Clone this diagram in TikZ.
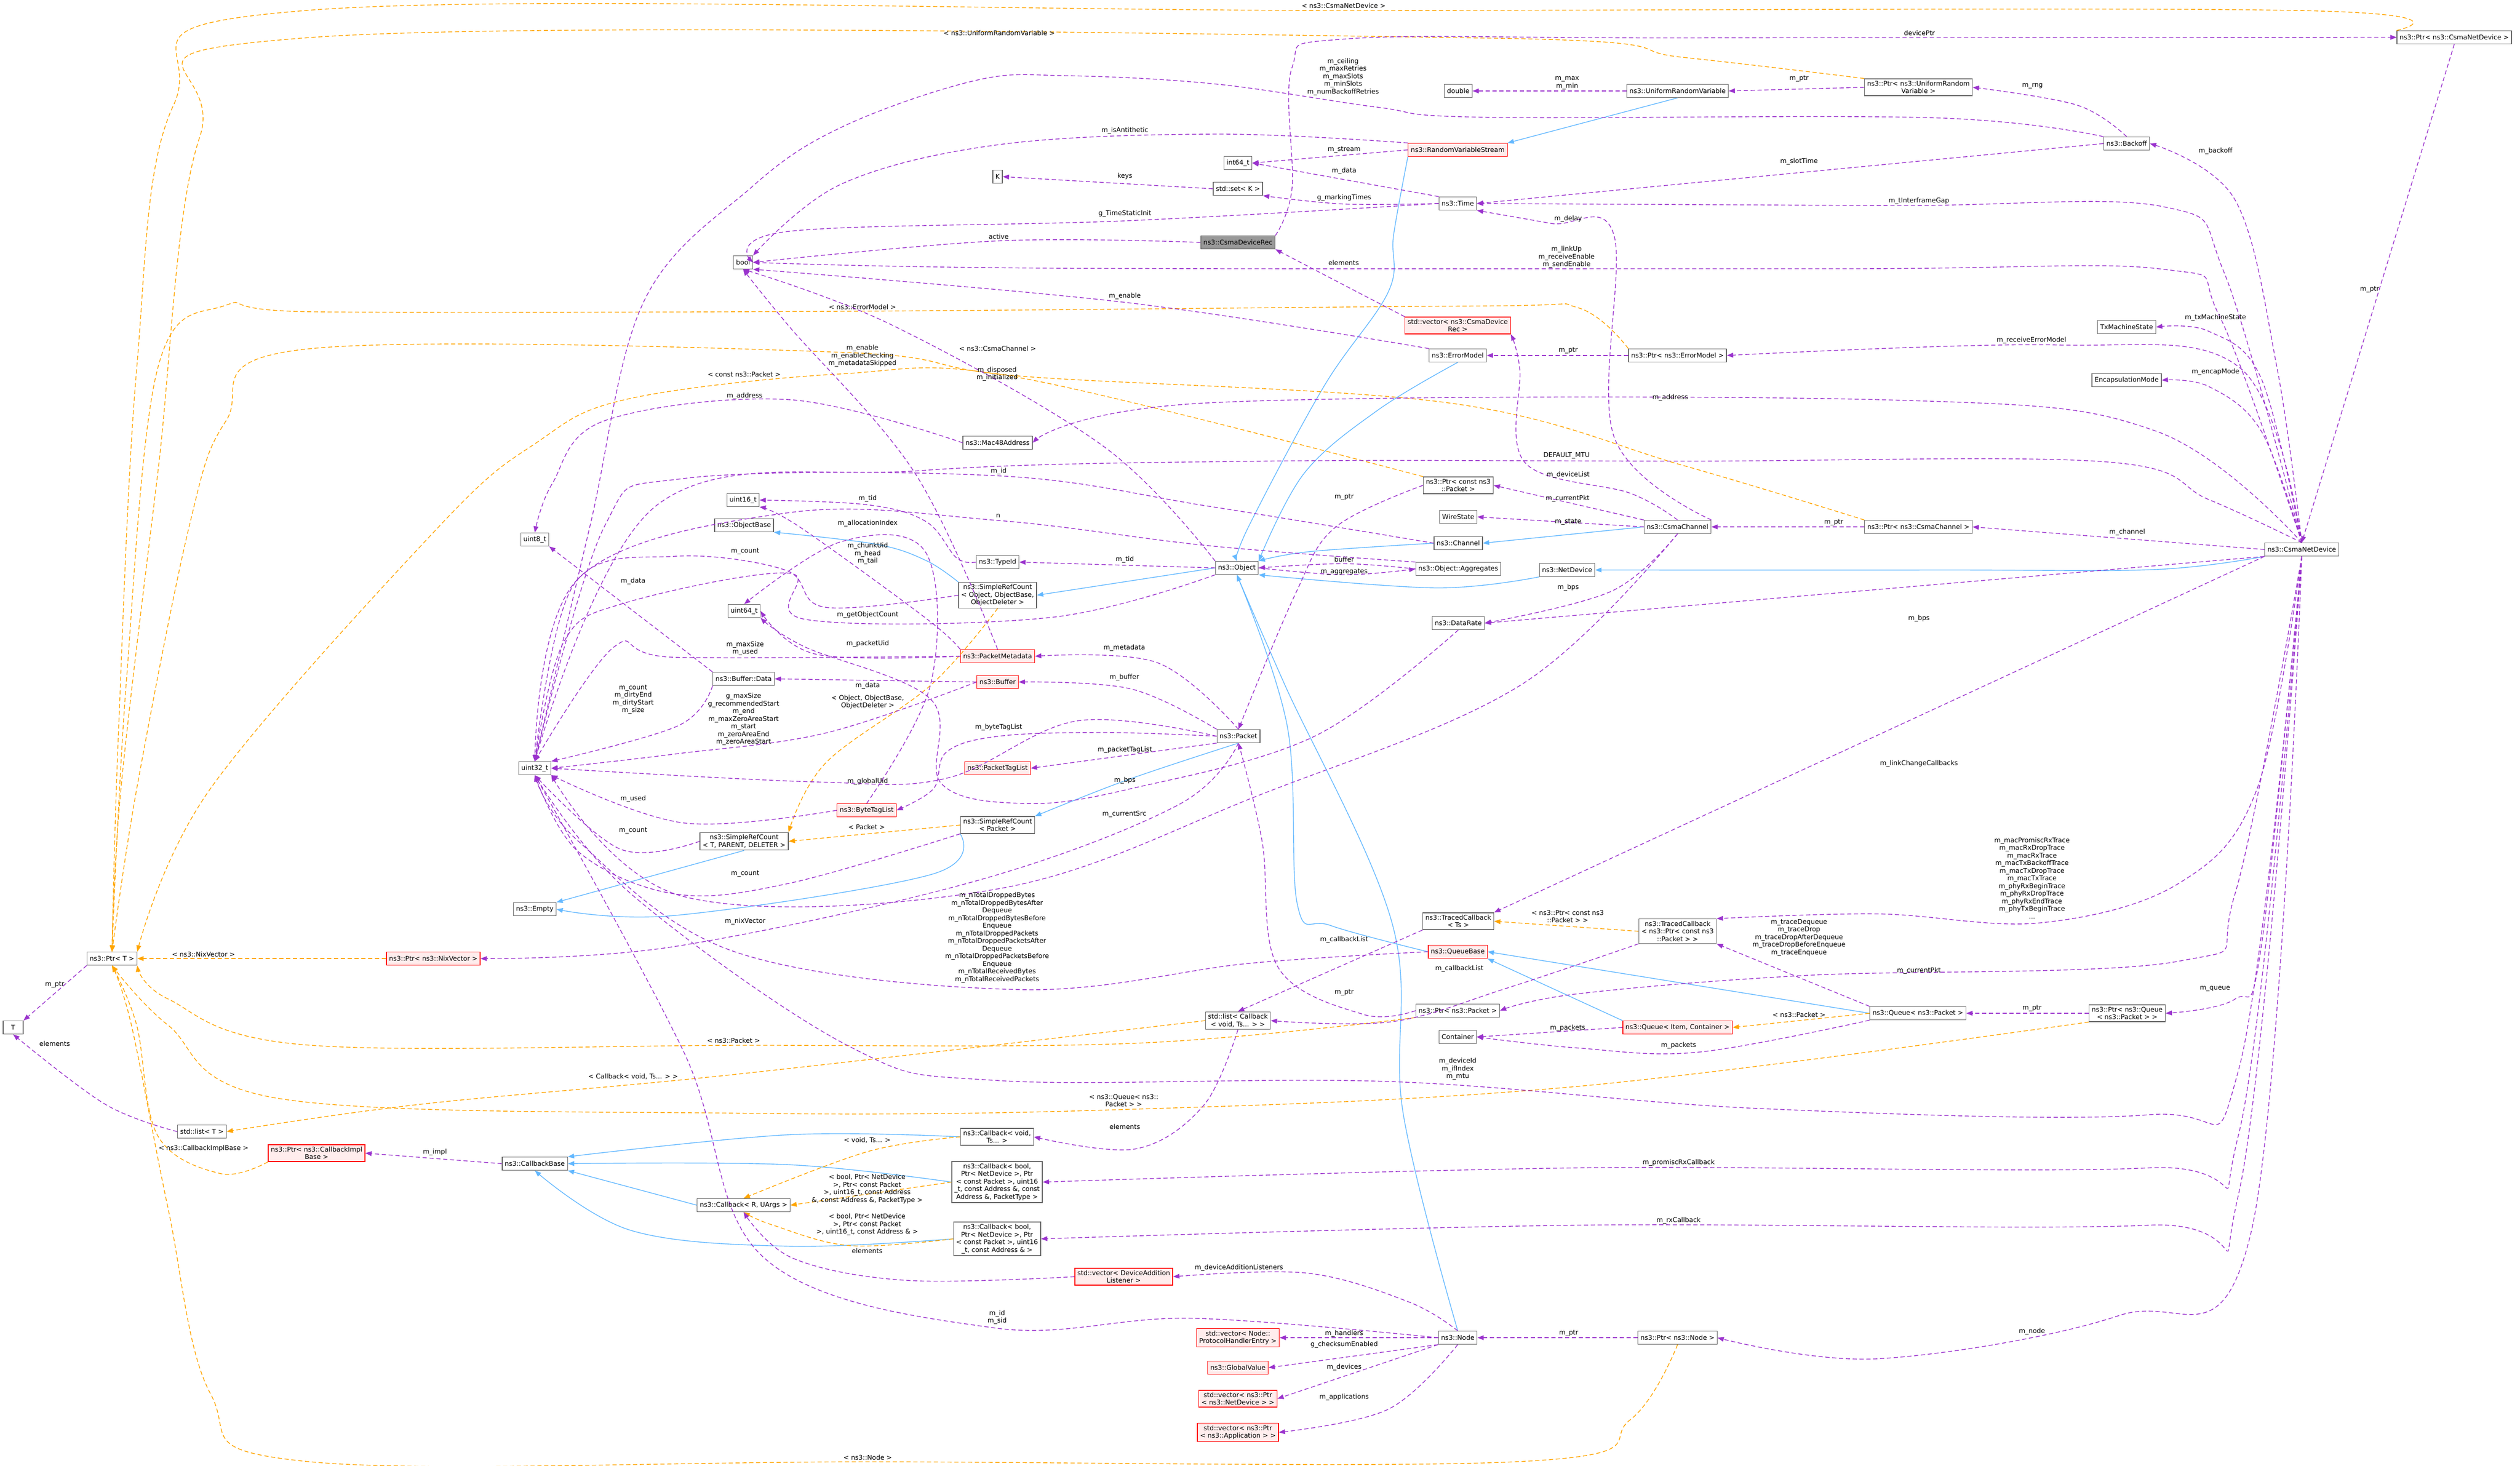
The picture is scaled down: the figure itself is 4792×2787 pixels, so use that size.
\documentclass[tikz,border=0pt]{standalone}
\usepackage{fontspec}
\setmainfont{DejaVu Sans}
\usetikzlibrary{arrows.meta}
\definecolor{mp}{HTML}{9A32CD}
\definecolor{ob}{HTML}{FFA500}
\definecolor{bl}{HTML}{63B8FF}
\tikzset{
 box/.style={draw=black!60,fill=white,line width=1.3pt,inner xsep=5pt,inner ysep=4pt,minimum height=25pt,align=center,font=\fontsize{12.5}{14.5}\selectfont},
 redbox/.style={box,draw=red,fill=red!7},
 graybox/.style={box,draw=black!70,fill=black!40},
 lbl/.style={inner sep=0pt,align=center,font=\fontsize{12.5}{14.5}\selectfont},
 mem/.style={draw=mp,line width=1.4pt,dash pattern=on 8pt off 5pt,-{Triangle[length=12pt,width=9pt,fill=mp]}},
 tpl/.style={draw=ob,line width=1.4pt,dash pattern=on 8pt off 5pt,-{Triangle[length=12pt,width=9pt,fill=ob]}},
 inh/.style={draw=bl,line width=1.4pt,-{Triangle[length=12pt,width=9pt,fill=bl]}},
 sm/.style={smooth,tension=0.6}
}
\begin{document}
\begin{tikzpicture}[x=1pt,y=-1pt]
\useasboundingbox (0,0) rectangle (4792,2787);
% nodes
\node[box] (bool) at (1413,499) {bool};
\node[box] (u16) at (1413,951) {uint16\_t};
\node[box] (objbase) at (1415,999) {ns3::ObjectBase};
\node[box] (u8) at (1017,1026) {uint8\_t};
\node[box] (u64) at (1415,1162) {uint64\_t};
\node[box] (bdata) at (1414,1291) {ns3::Buffer::Data};
\node[box] (u32) at (1017,1461) {uint32\_t};
\node[box] (srcT) at (1415,1600) {ns3::SimpleRefCount\\< T, PARENT, DELETER >};
\node[box] (empty) at (1017,1729) {ns3::Empty};
\node[box] (mac) at (1897,842) {ns3::Mac48Address};
\node[box] (typeid) at (1897,1069) {ns3::TypeId};
\node[box] (srcO) at (1897,1132) {ns3::SimpleRefCount\\< Object, ObjectBase,\\ObjectDeleter >};
\node[redbox] (pmeta) at (1897,1248) {ns3::PacketMetadata};
\node[redbox] (buffer) at (1897,1297) {ns3::Buffer};
\node[redbox] (ptaglist) at (1897,1461) {ns3::PacketTagList};
\node[redbox] (btaglist) at (1648,1541) {ns3::ByteTagList};
\node[box] (srcP) at (1897,1569) {ns3::SimpleRefCount\\< Packet >};
\node[box] (object) at (2352,1080) {ns3::Object};
\node[box] (packet) at (2355,1400) {ns3::Packet};
\node[box] (ptrcp) at (2773,923) {ns3::Ptr< const ns3\\::Packet >};
\node[box] (wire) at (2773,983) {WireState};
\node[box] (channel) at (2773,1033) {ns3::Channel};
\node[box] (aggr) at (2773,1082) {ns3::Object::Aggregates};
\node[box] (netdev) at (2980,1084) {ns3::NetDevice};
\node[box] (datarate) at (2773,1185) {ns3::DataRate};
\node[box] (cchan) at (3190,1002) {ns3::CsmaChannel};
\node[box] (ptrcc) at (3648,1002) {ns3::Ptr< ns3::CsmaChannel >};
\node[box] (cnd) at (4377,1045) {ns3::CsmaNetDevice};
\node[box] (tcts) at (2773,1752) {ns3::TracedCallback\\< Ts >};
\node[box] (tcp) at (3190,1771) {ns3::TracedCallback\\< ns3::Ptr< const ns3\\::Packet > >};
\node[graybox] (rec) at (2354,461) {ns3::CsmaDeviceRec};
\node[box] (i64) at (2354,310) {int64\_t};
\node[box] (K) at (1897,336) {K};
\node[box] (setK) at (2354,359) {std::set< K >};
\node[redbox] (rvs) at (2772,285) {ns3::RandomVariableStream};
\node[box] (time) at (2772,387) {ns3::Time};
\node[redbox] (vecrec) at (2772,619) {std::vector< ns3::CsmaDevice\\Rec >};
\node[box] (errm) at (2772,676) {ns3::ErrorModel};
\node[box] (ptrerr) at (3190,676) {ns3::Ptr< ns3::ErrorModel >};
\node[box] (urv) at (3190,173) {ns3::UniformRandomVariable};
\node[box] (dbl) at (2773,173) {double};
\node[box] (ptrurv) at (3648,166) {ns3::Ptr< ns3::UniformRandom\\Variable >};
\node[box] (backoff) at (4044,273) {ns3::Backoff};
\node[box] (ptrcnd) at (4667,71) {ns3::Ptr< ns3::CsmaNetDevice >};
\node[box] (txms) at (4044,622) {TxMachineState};
\node[box] (encap) at (4044,723) {EncapsulationMode};
\node[box] (ptrT) at (213,1823) {ns3::Ptr< T >};
\node[box,minimum width=38pt] (T) at (25,1954) {T};
\node[box] (listT) at (384,2152) {std::list< T >};
\node[redbox] (ptrnix) at (824,1823) {ns3::Ptr< ns3::NixVector >};
\node[redbox] (ptrcib) at (602,2193) {ns3::Ptr< ns3::CallbackImpl\\Base >};
\node[box] (cbbase) at (1017,2213) {ns3::CallbackBase};
\node[box] (cbR) at (1414,2292) {ns3::Callback< R, UArgs >};
\node[box] (cbvoid) at (1896,2162) {ns3::Callback< void,\\Ts... >};
\node[box] (cbpt) at (1896,2248) {ns3::Callback< bool,\\Ptr< NetDevice >, Ptr\\< const Packet >, uint16\\\_t, const Address \&, const\\Address \&, PacketType >};
\node[box] (cbaddr) at (1896,2356) {ns3::Callback< bool,\\Ptr< NetDevice >, Ptr\\< const Packet >, uint16\\\_t, const Address \& >};
\node[redbox] (vecdal) at (2137,2428) {std::vector< DeviceAddition\\Listener >};
\node[box] (listcb) at (2354,1941) {std::list< Callback\\< void, Ts... > >};
\node[redbox] (qbase) at (2772,1810) {ns3::QueueBase};
\node[box] (ptrpkt) at (2772,1922) {ns3::Ptr< ns3::Packet >};
\node[box] (container) at (2772,1972) {Container};
\node[box] (nodeN) at (2772,2544) {ns3::Node};
\node[redbox] (vecph) at (2354,2544) {std::vector< Node::\\ProtocolHandlerEntry >};
\node[redbox] (gv) at (2354,2601) {ns3::GlobalValue};
\node[redbox] (vecnd) at (2354,2660) {std::vector< ns3::Ptr\\< ns3::NetDevice > >};
\node[redbox] (vecapp) at (2354,2724) {std::vector< ns3::Ptr\\< ns3::Application > >};
\node[redbox] (qic) at (3190,1954) {ns3::Queue< Item, Container >};
\node[box] (qp) at (3647,1927) {ns3::Queue< ns3::Packet >};
\node[box] (ptrq) at (4045,1927) {ns3::Ptr< ns3::Queue\\< ns3::Packet > >};
\node[box] (ptrnode) at (3190,2544) {ns3::Ptr< ns3::Node >};

% inheritance
\draw[inh] (urv.south) -- (rvs.north east);
\draw[inh] plot[sm] coordinates {(rvs.south west) (2650,447) (2640,555) (2518,734) (2375,1000) (object.north)};
\draw[inh] plot[sm] coordinates {(errm.south) (2620,780) (2480,900) (object.north east)};
\draw[inh] plot[sm] coordinates {(channel.west) (2491,1049) (object.north east)};
\draw[inh] (cchan.west) -- (channel.east);
\draw[inh] plot[sm] coordinates {(netdev.south west) (2731,1118) (object.south east)};
\draw[inh] plot[sm] coordinates {(cnd.south west) (4100,1083) (3700,1084) (netdev.east)};
\draw[inh] (object.west) -- (srcO.east);
\draw[inh] plot[sm] coordinates {(srcO.north west) (1761,1066) (1666,1035) (objbase.south east)};
\draw[inh] plot[sm] coordinates {(packet.south) (2144,1483) (srcP.north east)};
\draw[inh] plot[sm] coordinates {(srcP.south west) (1771,1663) (1283,1741) (empty.east)};
\draw[inh] (srcT.south) -- (empty.north east);
\draw[inh] plot[sm] coordinates {(qbase.west) (2530,1760) (2467,1720) (2448,1382) (object.south)};
\draw[inh] plot[sm] coordinates {(nodeN.north) (2668,2116) (2647,1755) (2443,1302) (object.south)};
\draw[inh] (qp.west) -- (qbase.east);
\draw[inh] (qic.north west) -- (qbase.south east);
\draw[inh] plot[sm] coordinates {(cbvoid.west) (1500,2158) (cbbase.north east)};
\draw[inh] plot[sm] coordinates {(cbpt.west) (1500,2215) (cbbase.east)};
\draw[inh] (cbR.west) -- (cbbase.south east);
\draw[inh] plot[sm] coordinates {(cbaddr.west) (1500,2370) (1200,2340) (cbbase.south)};

% templates
\draw[tpl] plot[sm] coordinates {(ptrcnd.north west) (4370,20) (2555,20) (581,20) (330,200) (260,700) (225,1400) (ptrT.north)};
\node[lbl] (l1) at (2555,11) {< ns3::CsmaNetDevice >};
\draw[tpl] plot[sm] coordinates {(ptrurv.north west) (3200,109) (2800,72) (581,72) (380,260) (300,900) (230,1500) (ptrT.north)};
\node[lbl] (l2) at (1900,63) {< ns3::UniformRandomVariable >};
\draw[tpl] plot[sm] coordinates {(ptrerr.north west) (3000,585) (2804,582) (1600,592) (600,593) (428,581) (300,700) (240,1300) (ptrT.north)};
\node[lbl] (l3) at (1640,584) {< ns3::ErrorModel >};
\draw[tpl] plot[sm] coordinates {(ptrcc.north west) (3200,885) (2753,766) (1937,715) (1600,670) (581,664) (430,800) (360,1000) (260,1500) (ptrT.north)};
\node[lbl] (l4) at (1897,663) {< ns3::CsmaChannel >};
\draw[tpl] plot[sm] coordinates {(ptrcp.north west) (1937,718) (1600,711) (1193,759) (1020,842) (836,1000) (400,1500) (ptrT.north east)};
\node[lbl] (l5) at (1415,712) {< const ns3::Packet >};
\draw[tpl] (ptrnix.west) -- (ptrT.east);
\node[lbl] (l6) at (387,1815) {< ns3::NixVector >};
\draw[tpl] plot[sm] coordinates {(ptrpkt.south west) (2159,1984) (1400,1988) (580,1987) (320,1900) (ptrT.south east)};
\node[lbl] (l7) at (1395,1979) {< ns3::Packet >};
\draw[tpl] plot[sm] coordinates {(ptrq.south west) (3000,2066) (2137,2110) (1400,2117) (536,2090) (320,1950) (ptrT.south)};
\node[lbl] (l8) at (2137,2093) {< ns3::Queue< ns3::\\Packet > >};
\draw[tpl] plot[sm] coordinates {(listcb.west) (1400,2043) (800,2100) (listT.east)};
\node[lbl] (l9) at (1204,2047) {< Callback< void, Ts... > >};
\draw[tpl] plot[sm] coordinates {(ptrcib.south west) (420,2232) (300,2160) (260,1950) (ptrT.south)};
\node[lbl] (l10) at (387,2184) {< ns3::CallbackImplBase >};
\draw[tpl] plot[sm] coordinates {(ptrnode.south) (3100,2700) (2900,2779) (1650,2780) (580,2779) (400,2650) (320,2300) (250,1950) (ptrT.south)};
\node[lbl] (l11) at (1650,2772) {< ns3::Node >};
\draw[tpl] plot[sm] coordinates {(srcO.south) (1771,1302) (1570,1451) (srcT.north east)};
\node[lbl] (l12) at (1650,1335) {< Object, ObjectBase,\\ObjectDeleter >};
\draw[tpl] (srcP.west) -- (srcT.east);
\node[lbl] (l13) at (1648,1573) {< Packet >};
\draw[tpl] (qp.west) -- (qic.east);
\node[lbl] (l14) at (3421,1930) {< ns3::Packet >};
\draw[tpl] (tcp.west) -- (tcts.east);
\node[lbl] (l15) at (2981,1743) {< ns3::Ptr< const ns3\\::Packet > >};
\draw[tpl] plot[sm] coordinates {(cbvoid.west) (1650,2190) (cbR.north)};
\node[lbl] (l16) at (1649,2168) {< void, Ts... >};
\draw[tpl] plot[sm] coordinates {(cbpt.west) (cbR.east)};
\node[lbl] (l17) at (1649,2261) {< bool, Ptr< NetDevice\\>, Ptr< const Packet\\>, uint16\_t, const Address\\\&, const Address \&, PacketType >};
\draw[tpl] plot[sm] coordinates {(cbaddr.west) (1617,2369) (1470,2330) (cbR.south)};
\node[lbl] (l18) at (1649,2329) {< bool, Ptr< NetDevice\\>, Ptr< const Packet\\>, uint16\_t, const Address \& >};

% members
\draw[mem] plot[sm] coordinates {(rec.west) (1900,458) (bool.east)};
\node[lbl] (m1) at (1899,450) {active};
\draw[mem] plot[sm] coordinates {(rec.north east) (2457,357) (2457,128) (2560,74) (3200,72) (ptrcnd.west)};
\node[lbl] (m2) at (3650,63) {devicePtr};
\draw[mem] (vecrec.north west) -- (rec.south east);
\node[lbl] (m3) at (2555,500) {elements};
\draw[mem] plot[sm] coordinates {(cchan.north) (3100,938) (2900,880) (2890,702) (vecrec.south east)};
\node[lbl] (m4) at (2982,903) {m\_deviceList};
\draw[mem] plot[sm] coordinates {(cchan.north east) (3069,830) (3069,447) (2950,425) (time.south east)};
\node[lbl] (m5) at (2982,416) {m\_delay};
\draw[mem] (cchan.north west) -- (ptrcp.east);
\node[lbl] (m6) at (2981,948) {m\_currentPkt};
\draw[mem] (cchan.west) -- (wire.east);
\node[lbl] (m7) at (2982,993) {m\_state};
\draw[mem] plot[sm] coordinates {(cchan.south) (3065,1124) (datarate.east)};
\node[lbl] (m8) at (2982,1117) {m\_bps};
\draw[mem] plot[sm] coordinates {(cchan.south) (2893,1302) (2400,1510) (1900,1690) (1300,1705) (u32.south east)};
\node[lbl] (m9) at (2138,1548) {m\_currentSrc};
\draw[mem] plot[sm] coordinates {(datarate.south) (2500,1400) (2150,1500) (1950,1528) (1790,1490) (1770,1330) (1530,1230) (u64.south east)};
\node[lbl] (m9b) at (2139,1484) {m\_bps};
\draw[mem] (ptrcc.west) -- (cchan.east);
\node[lbl] (m10) at (3487,994) {m\_ptr};
\draw[mem] (cnd.west) -- (ptrcc.east);
\node[lbl] (m11) at (4045,1012) {m\_channel};
\draw[mem] plot[sm] coordinates {(cnd.north) (4330,700) (4250,380) (backoff.east)};
\node[lbl] (m12) at (4213,287) {m\_backoff};
\draw[mem] plot[sm] coordinates {(cnd.north) (4230,520) (4113,393) (3600,391) (time.east)};
\node[lbl] (m13) at (3649,382) {m\_tInterframeGap};
\draw[mem] plot[sm] coordinates {(cnd.north) (4220,600) (4113,512) (3500,511) (2000,510) (bool.east)};
\node[lbl] (m14) at (2979,489) {m\_linkUp\\m\_receiveEnable\\m\_sendEnable};
\draw[mem] plot[sm] coordinates {(cnd.north) (4300,720) (4200,630) (txms.east)};
\node[lbl] (m15) at (4213,604) {m\_txMachineState};
\draw[mem] plot[sm] coordinates {(cnd.north) (4260,700) (3910,656) (ptrerr.east)};
\node[lbl] (m16) at (3863,647) {m\_receiveErrorModel};
\draw[mem] plot[sm] coordinates {(cnd.north) (4300,820) (4200,735) (encap.east)};
\node[lbl] (m17) at (4213,707) {m\_encapMode};
\draw[mem] plot[sm] coordinates {(cnd.north) (4100,820) (3606,761) (2300,766) (mac.east)};
\node[lbl] (m18) at (3176,756) {m\_address};
\draw[mem] plot[sm] coordinates {(cnd.north) (4200,950) (4000,878) (3200,877) (2400,877) (1750,895) (1250,960) (u32.north)};
\node[lbl] (m19) at (2979,866) {DEFAULT\_MTU};
\draw[mem] (cnd.south west) -- (datarate.east);
\node[lbl] (m20) at (3649,1176) {m\_bps};
\draw[mem] (cnd.south west) -- (tcts.north east);
\node[lbl] (m21) at (3649,1452) {m\_linkChangeCallbacks};
\draw[mem] plot[sm] coordinates {(cnd.south) (4292,1500) (4143,1680) (3880,1755) (3571,1738) (tcp.north east)};
\node[lbl] (m22) at (3864,1670) {m\_macPromiscRxTrace\\m\_macRxDropTrace\\m\_macRxTrace\\m\_macTxBackoffTrace\\m\_macTxDropTrace\\m\_macTxTrace\\m\_phyRxBeginTrace\\m\_phyRxDropTrace\\m\_phyRxEndTrace\\m\_phyTxBeginTrace\\...};
\draw[mem] plot[sm] coordinates {(cnd.south) (4250,1700) (4143,1828) (3434,1855) (3000,1890) (ptrpkt.east)};
\node[lbl] (m23) at (3649,1846) {m\_currentPkt};
\draw[mem] plot[sm] coordinates {(cnd.south) (4300,1800) (4250,1900) (ptrq.east)};
\node[lbl] (m24) at (4212,1880) {m\_queue};
\draw[mem] plot[sm] coordinates {(cnd.south) (4257,2034) (4086,2120) (3343,2108) (2647,2057) (1899,2055) (1617,1991) (1200,1700) (u32.south)};
\node[lbl] (m25) at (2772,2033) {m\_deviceId\\m\_ifIndex\\m\_mtu};
\draw[mem] plot[sm] coordinates {(cnd.south) (4257,2157) (4086,2221) (3000,2221) (cbpt.east)};
\node[lbl] (m26) at (3192,2211) {m\_promiscRxCallback};
\draw[mem] plot[sm] coordinates {(cnd.south) (4257,2270) (4086,2330) (3000,2330) (cbaddr.east)};
\node[lbl] (m27) at (3192,2321) {m\_rxCallback};
\draw[mem] plot[sm] coordinates {(cnd.south) (4280,2346) (4029,2502) (3571,2584) (ptrnode.east)};
\node[lbl] (m28) at (3864,2532) {m\_node};
\draw[mem] (ptrcnd.south) -- (cnd.north);
\node[lbl] (m29) at (4506,551) {m\_ptr};
\draw[mem] plot[sm] coordinates {(backoff.north) (3950,200) (ptrurv.east)};
\node[lbl] (m30) at (3865,163) {m\_rng};
\draw[mem] (backoff.west) -- (time.east);
\node[lbl] (m31) at (3421,307) {m\_slotTime};
\draw[mem] plot[sm] coordinates {(backoff.north west) (3677,224) (2824,223) (2620,204) (2314,160) (2028,144) (1855,153) (1600,242) (1428,357) (1224,574) (1122,1000) (u32.north)};
\node[lbl] (m32) at (2554,146) {m\_ceiling\\m\_maxRetries\\m\_maxSlots\\m\_minSlots\\m\_numBackoffRetries};
\draw[mem] (ptrurv.west) -- (urv.east);
\node[lbl] (m33) at (3421,150) {m\_ptr};
\draw[mem] (urv.west) -- (dbl.east);
\node[lbl] (m34) at (2980,158) {m\_max\\m\_min};
\draw[mem] (rvs.west) -- (i64.east);
\node[lbl] (m35) at (2556,285) {m\_stream};
\draw[mem] plot[sm] coordinates {(rvs.north west) (2314,255) (1900,275) (1600,350) (bool.north east)};
\node[lbl] (m36) at (2139,248) {m\_isAntithetic};
\draw[mem] (time.north west) -- (i64.east);
\node[lbl] (m37) at (2556,325) {m\_data};
\draw[mem] plot[sm] coordinates {(time.west) (2556,388) (setK.south east)};
\node[lbl] (m38) at (2556,376) {g\_markingTimes};
\draw[mem] plot[sm] coordinates {(time.west) (2139,420) (1500,440) (bool.east)};
\node[lbl] (m39) at (2139,406) {g\_TimeStaticInit};
\draw[mem] (setK.west) -- (K.east);
\node[lbl] (m40) at (2139,335) {keys};
\draw[mem] (ptrerr.west) -- (errm.east);
\node[lbl] (m41) at (2982,667) {m\_ptr};
\draw[mem] plot[sm] coordinates {(errm.north west) (2139,575) (bool.south east)};
\node[lbl] (m42) at (2139,563) {m\_enable};
\draw[mem] plot[sm] coordinates {(pmeta.north) (1740,900) (1500,620) (bool.south)};
\node[lbl] (m43) at (1640,677) {m\_enable\\m\_enableChecking\\m\_metadataSkipped};
\draw[mem] plot[sm] coordinates {(object.north west) (2100,850) (1700,620) (bool.south)};
\node[lbl] (m44) at (1896,711) {m\_disposed\\m\_initialized};
\draw[mem] (object.west) -- (typeid.east);
\node[lbl] (m45) at (2139,1064) {m\_tid};
\draw[mem] plot[sm] coordinates {(aggr.west) (2556,1072) (object.east)};
\node[lbl] (m46) at (2556,1064) {buffer};
\draw[mem] plot[sm] coordinates {(object.east) (2556,1093) (aggr.west)};
\node[lbl] (m47) at (2556,1088) {m\_aggregates};
\draw[mem] plot[sm] coordinates {(object.south west) (2000,1174) (1532,1178) (1500,1090) (1187,1147) (1072,1221) (u32.north)};
\node[lbl] (m48) at (1650,1169) {m\_getObjectCount};
\draw[mem] plot[sm] coordinates {(typeid.west) (1819,1061) (1761,992) (1650,960) (u16.east)};
\node[lbl] (m49) at (1650,948) {m\_tid};
\draw[mem] plot[sm] coordinates {(channel.west) (2300,963) (1900,905) (1300,910) (1150,1000) (u32.north)};
\node[lbl] (m50) at (1899,896) {m\_id};
\draw[mem] plot[sm] coordinates {(aggr.north west) (2300,1038) (1900,990) (1500,975) (1100,1100) (u32.north)};
\node[lbl] (m51) at (1898,981) {n};
\draw[mem] plot[sm] coordinates {(srcO.west) (1570,1155) (1493,1084) (1283,1058) (1091,1112) (u32.north)};
\node[lbl] (m52) at (1417,1049) {m\_count};
\draw[mem] plot[sm] coordinates {(pmeta.north west) (1761,1176) (1522,1003) (u16.south east)};
\node[lbl] (m53) at (1650,1053) {m\_chunkUid\\m\_head\\m\_tail};
\draw[mem] plot[sm] coordinates {(pmeta.west) (1551,1244) (u64.east)};
\node[lbl] (m54) at (1650,1224) {m\_packetUid};
\draw[mem] plot[sm] coordinates {(pmeta.west) (1283,1250) (1168,1230) (u32.north)};
\node[lbl] (m55) at (1417,1233) {m\_maxSize\\m\_used};
\draw[mem] (buffer.west) -- (bdata.east);
\node[lbl] (m56) at (1650,1304) {m\_data};
\draw[mem] plot[sm] coordinates {(buffer.west) (1570,1394) (1283,1434) (u32.east)};
\node[lbl] (m57) at (1414,1368) {g\_maxSize\\g\_recommendedStart\\m\_end\\m\_maxZeroAreaStart\\m\_start\\m\_zeroAreaEnd\\m\_zeroAreaStart};
\draw[mem] (bdata.north west) -- (u8.south east);
\node[lbl] (m58) at (1204,1105) {m\_data};
\draw[mem] plot[sm] coordinates {(bdata.south west) (1290,1380) (u32.north east)};
\node[lbl] (m59) at (1204,1330) {m\_count\\m\_dirtyEnd\\m\_dirtyStart\\m\_size};
\draw[mem] plot[sm] coordinates {(packet.north) (2200,1260) (pmeta.east)};
\node[lbl] (m60) at (2138,1232) {m\_metadata};
\draw[mem] plot[sm] coordinates {(packet.north west) (2150,1310) (buffer.east)};
\node[lbl] (m61) at (2138,1288) {m\_buffer};
\draw[mem] plot[sm] coordinates {(packet.west) (2100,1393) (1900,1400) (1800,1430) (1775,1500) (btaglist.east)};
\node[lbl] (m62) at (1899,1383) {m\_byteTagList};
\draw[mem] (packet.south west) -- (ptaglist.east);
\node[lbl] (m63) at (2139,1426) {m\_packetTagList};
\draw[mem] plot[sm] coordinates {(packet.south) (2240,1531) (1857,1675) (1283,1800) (ptrnix.east)};
\node[lbl] (m64) at (1417,1752) {m\_nixVector};
\draw[mem] plot[sm] coordinates {(packet.west) (2048,1371) (1800,1480) (1550,1487) (u32.east)};
\node[lbl] (m65) at (1650,1486) {m\_globalUid};
\draw[mem] plot[sm] coordinates {(btaglist.west) (1300,1565) (u32.south east)};
\node[lbl] (m66) at (1204,1519) {m\_used};
\draw[mem] plot[sm] coordinates {(btaglist.north) (1770,1300) (1760,1050) (1600,1030) (u64.north)};
\node[lbl] (m67) at (1650,995) {m\_allocationIndex};
\draw[mem] plot[sm] coordinates {(srcT.west) (1180,1615) (u32.south)};
\node[lbl] (m68) at (1204,1580) {m\_count};
\draw[mem] plot[sm] coordinates {(srcP.south west) (1500,1680) (1283,1700) (1100,1620) (u32.south)};
\node[lbl] (m69) at (1417,1662) {m\_count};
\draw[mem] plot[sm] coordinates {(ptrcp.west) (2539,1003) (2463,1130) (packet.north)};
\node[lbl] (m70) at (2556,946) {m\_ptr};
\draw[mem] plot[sm] coordinates {(ptrpkt.west) (2592,1929) (2430,1839) (2400,1600) (packet.south)};
\node[lbl] (m71) at (2556,1888) {m\_ptr};
\draw[mem] plot[sm] coordinates {(qbase.west) (2376,1832) (1942,1882) (1400,1811) (1100,1600) (u32.south)};
\node[lbl] (m72) at (1896,1783) {m\_nTotalDroppedBytes\\m\_nTotalDroppedBytesAfter\\Dequeue\\m\_nTotalDroppedBytesBefore\\Enqueue\\m\_nTotalDroppedPackets\\m\_nTotalDroppedPacketsAfter\\Dequeue\\m\_nTotalDroppedPacketsBefore\\Enqueue\\m\_nTotalReceivedBytes\\m\_nTotalReceivedPackets};
\draw[mem] (tcts.south west) -- (listcb.north);
\node[lbl] (m73) at (2556,1787) {m\_callbackList};
\draw[mem] plot[sm] coordinates {(tcp.south west) (2863,1880) (2647,1943) (listcb.east)};
\node[lbl] (m74) at (2775,1842) {m\_callbackList};
\draw[mem] plot[sm] coordinates {(listcb.south) (2289,2102) (2159,2185) (cbvoid.east)};
\node[lbl] (m75) at (2139,2143) {elements};
\draw[mem] (qp.north west) -- (tcp.south east);
\node[lbl] (m76) at (3421,1783) {m\_traceDequeue\\m\_traceDrop\\m\_traceDropAfterDequeue\\m\_traceDropBeforeEnqueue\\m\_traceEnqueue};
\draw[mem] plot[sm] coordinates {(qp.south west) (3229,2001) (3000,1993) (container.east)};
\node[lbl] (m77) at (3192,1988) {m\_packets};
\draw[mem] (qic.west) -- (container.east);
\node[lbl] (m78) at (2981,1955) {m\_packets};
\draw[mem] (ptrq.west) -- (qp.east);
\node[lbl] (m79) at (3864,1918) {m\_ptr};
\draw[mem] (ptrnode.west) -- (nodeN.east);
\node[lbl] (m80) at (2983,2536) {m\_ptr};
\draw[mem] plot[sm] coordinates {(nodeN.north) (2679,2476) (2484,2421) (vecdal.east)};
\node[lbl] (m81) at (2356,2411) {m\_deviceAdditionListeners};
\draw[mem] plot[sm] coordinates {(nodeN.west) (2267,2507) (1888,2525) (1454,2393) (1300,2000) (u32.south)};
\node[lbl] (m82) at (1896,2505) {m\_id\\m\_sid};
\draw[mem] (nodeN.west) -- (vecph.east);
\node[lbl] (m83) at (2556,2536) {m\_handlers};
\draw[mem] (nodeN.south west) -- (gv.east);
\node[lbl] (m84) at (2556,2557) {g\_checksumEnabled};
\draw[mem] (nodeN.south west) -- (vecnd.east);
\node[lbl] (m85) at (2556,2600) {m\_devices};
\draw[mem] plot[sm] coordinates {(nodeN.south) (2640,2680) (vecapp.east)};
\node[lbl] (m86) at (2556,2657) {m\_applications};
\draw[mem] plot[sm] coordinates {(vecdal.west) (1725,2435) (1508,2393) (cbR.south)};
\node[lbl] (m87) at (1649,2379) {elements};
\draw[mem] (ptrT.south west) -- (T.north east);
\node[lbl] (m88) at (104,1873) {m\_ptr};
\draw[mem] plot[sm] coordinates {(listT.west) (200,2100) (T.south)};
\node[lbl] (m89) at (104,1985) {elements};
\draw[mem] (cbbase.west) -- (ptrcib.east);
\node[lbl] (m90) at (827,2191) {m\_impl};
\draw[mem] plot[sm] coordinates {(mac.west) (1500,760) (1150,800) (1050,920) (u8.north)};
\node[lbl] (m91) at (1416,753) {m\_address};
\end{tikzpicture}
\end{document}
